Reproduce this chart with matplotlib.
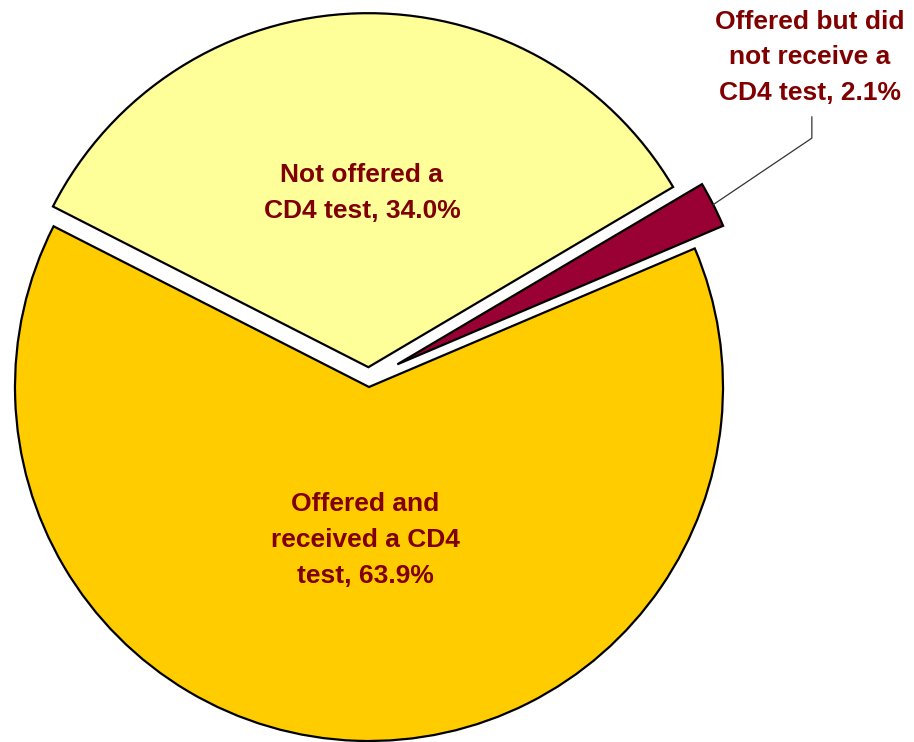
import numpy as np
import matplotlib.pyplot as plt

# CD4 testing among patients
categories = ['Offered and\nreceived a CD4\ntest',
              'Offered but did\nnot receive a\nCD4 test',
              'Not offered a\nCD4 test']
shares = [63.9, 2.1, 34.0]
colors = ['#FFCC00', '#990033', '#FFFF99']
explode = [0.0, 0.0, 0.056]

text_color = '#800000'
font = {'family': 'Liberation Sans', 'weight': 'bold', 'size': 19,
        'color': text_color}

fig = plt.figure(figsize=(9.14, 7.42), dpi=100)
ax = fig.add_axes([0, 0, 1, 1])

wedges, _ = ax.pie(shares, colors=colors, explode=explode, startangle=153,
                   counterclock=True, radius=1.0,
                   wedgeprops={'edgecolor': 'black', 'linewidth': 1.6})

# the thin slice is pulled further out (up and right)
wedges[1].set_center((0.080, 0.064))

labels = [f'{c}, {v:.1f}%' for c, v in zip(categories, shares)]

# labels inside the two big slices
ax.text(-0.011, -0.432, labels[0], ha='center', va='center',
        linespacing=1.62, **font)
ax.text(-0.02, 0.549, labels[2], ha='center', va='center',
        linespacing=1.62, **font)

# outside label for the thin slice with leader line
w = wedges[1]
mid = np.deg2rad((w.theta1 + w.theta2) / 2)
cx, cy = w.center
px, py = cx + w.r * np.cos(mid), cy + w.r * np.sin(mid)
ax.plot([px, 1.251, 1.251], [py, 0.703, 0.763], color='#333333', lw=0.9)
ax.text(1.246, 0.931, labels[1], ha='center', va='center',
        linespacing=1.62, **font)

ax.set_xlim(-369 / 354, (914 - 369) / 354)
ax.set_ylim(-(742 - 387) / 354, 387 / 354)
ax.set_aspect('equal')
ax.axis('off')

plt.savefig('out.png', dpi=100)
